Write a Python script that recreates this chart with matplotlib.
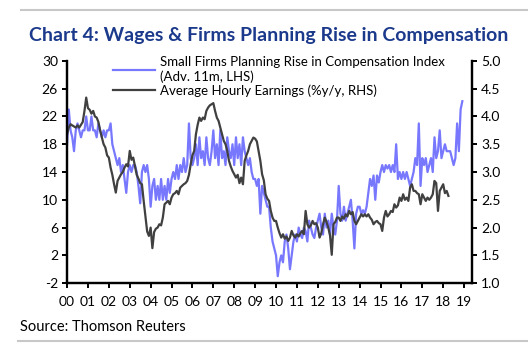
import numpy as np
import matplotlib
matplotlib.use("Agg")
import matplotlib.pyplot as plt
from matplotlib.lines import Line2D

plt.rcParams['font.family'] = ['Lato', 'DejaVu Sans']
plt.rcParams['axes.unicode_minus'] = False

# Small firms planning rise in compensation index (adv. 11m, LHS), monthly from Jan 2000
firms = [
    18, 23, 20, 19, 17, 20, 21, 20, 19, 20, 20, 22,
    20, 20, 22, 20, 20, 19, 21, 20, 19, 20, 19, 20,
    20, 21, 18, 17, 16, 15, 16, 14, 15, 13, 11, 14,
    15, 14, 15, 15, 14, 12, 9.5, 14, 15, 14, 15, 13,
    9, 12, 13, 10, 12, 10, 13, 10, 12, 10, 13, 11,
    13, 14, 13, 15, 13, 15, 14, 16, 14, 15, 21, 16,
    15, 16, 18, 15, 19, 16, 17, 15, 19, 16, 15, 17,
    20, 16, 18, 15, 20, 16, 17, 15, 19, 17, 16, 18,
    15, 19, 16, 18, 15, 19, 17, 16, 15, 16, 14, 13,
    13, 12, 13, 8, 12, 11, 10, 9, 9, 6, 4, 3,
    2, -1, 1, 2, 1, 4, 5, 3, 0, 2, 4, 5,
    4, 6, 5, 4.5, 6, 5.5, 4, 7, 6, 5, 4.5, 6,
    7, 8, 6, 5, 8, 6, 7, 5, 8, 6, 5, 7,
    12, 8, 7, 9, 7, 8, 9, 10, 7, 3, 8, 9,
    9, 8, 8.5, 8, 9, 11, 13, 12, 13.5, 10, 13.5, 12.5,
    14, 15, 14, 15, 14.5, 15, 14, 15, 14, 18, 13, 14,
    13, 14, 13, 14, 13, 12, 13, 14, 16, 15, 21, 12,
    16, 15, 16, 14, 15, 16, 14, 19, 16, 17, 20, 16,
    17, 18, 17, 17, 17, 16, 15, 16, 21, 17, 23, 24.2,
]

# Average hourly earnings (%y/y, RHS), monthly from Jan 2000
ahe = [
    3.68, 3.80, 3.86, 3.84, 3.82, 3.80, 3.84, 3.80, 3.85, 3.90, 4.10, 4.34,
    4.15, 4.12, 4.05, 4.10, 4.00, 3.98, 3.90, 3.75, 3.62, 3.50, 3.44, 3.30,
    3.26, 3.08, 2.95, 2.78, 2.63, 2.84, 2.90, 2.96, 3.00, 3.08, 3.14, 3.10,
    3.38, 3.22, 3.26, 3.10, 2.95, 2.88, 2.80, 2.78, 2.48, 2.20, 1.93, 1.85,
    2.00, 1.63, 1.92, 1.98, 2.00, 2.06, 2.04, 2.18, 2.42, 2.45, 2.48, 2.42,
    2.54, 2.60, 2.62, 2.66, 2.60, 2.72, 2.75, 2.78, 2.80, 2.84, 2.95, 3.14,
    3.30, 3.38, 3.68, 3.85, 3.98, 3.92, 3.98, 3.95, 4.10, 4.16, 4.20, 4.22,
    4.24, 4.10, 3.98, 3.92, 3.80, 3.68, 3.56, 3.50, 3.38, 3.20, 3.10, 3.02,
    2.96, 2.90, 2.95, 2.80, 2.90, 2.78, 3.20, 3.30, 3.38, 3.50, 3.56, 3.62,
    3.60, 3.55, 3.38, 3.20, 2.96, 2.85, 2.60, 2.52, 2.48, 2.30, 2.18, 2.12,
    2.12, 2.00, 1.90, 1.82, 1.88, 1.80, 1.84, 1.76, 1.82, 1.94, 1.86, 1.82,
    1.88, 1.84, 1.90, 1.94, 1.88, 2.30, 2.06, 2.00, 2.04, 2.12, 2.06, 2.08,
    2.00, 1.82, 1.90, 2.06, 2.18, 2.10, 2.00, 1.86, 1.51, 2.06, 2.10, 2.18,
    2.18, 2.12, 2.20, 2.16, 2.24, 2.20, 2.30, 2.24, 2.28, 2.12, 2.06, 2.12,
    2.18, 2.24, 2.20, 2.24, 2.20, 2.24, 2.18, 2.14, 2.06, 2.10, 2.12, 2.08,
    2.06, 1.94, 2.18, 2.30, 2.20, 2.24, 2.30, 2.28, 2.42, 2.36, 2.40, 2.54,
    2.48, 2.60, 2.50, 2.54, 2.48, 2.72, 2.78, 2.66, 2.66, 2.62, 2.60, 2.42,
    2.60, 2.54, 2.48, 2.54, 2.50, 2.54, 2.60, 2.84, 2.80, 2.30, 2.66, 2.72,
    2.78, 2.62, 2.66, 2.57,
]

year_labels = ['00', '01', '02', '03', '04', '05', '06', '07', '08', '09',
               '10', '11', '12', '13', '14', '15', '16', '17', '18', '19']

t_firms = 2000 + np.arange(len(firms)) / 12
t_ahe = 2000 + np.arange(len(ahe)) / 12

blue = '#7878ff'
dark = '#404040'
title_col = '#1c3a8c'

fig = plt.figure(figsize=(5.28, 3.5), dpi=100)
ax = fig.add_axes([0.127, 0.191, 0.767, 0.635])
ax2 = ax.twinx()

ax.plot(t_firms, firms, color=blue, lw=1.6)
ax2.plot(t_ahe, ahe, color=dark, lw=1.6)

ax.set_xlim(2000, 2019.38)
ax.set_ylim(-2, 30)
ax.set_yticks(np.arange(-2, 31, 4))
ax2.set_ylim(1.0, 5.0)
ax2.set_yticks(np.arange(1.0, 5.01, 0.5))
ax2.set_yticklabels([f"{v:.1f}" for v in np.arange(1.0, 5.01, 0.5)])
ax.set_xticks(np.arange(2000, 2020))
ax.set_xticklabels(year_labels)

for a in (ax, ax2):
    a.spines['top'].set_visible(False)
    for s in ('left', 'right', 'bottom'):
        a.spines[s].set_linewidth(1.6)
        a.spines[s].set_color('black')
    a.tick_params(direction='out', length=3.5, width=1.4, labelsize=10,
                  colors='black', pad=3)
ax.tick_params(axis='x', pad=6)

handles = [Line2D([], [], color=blue, lw=1.6), Line2D([], [], color=dark, lw=1.6)]
labels = ['Small Firms Planning Rise in Compensation Index\n(Adv. 11m, LHS)',
          'Average Hourly Earnings (%y/y, RHS)']
ax2.legend(handles, labels, loc='upper left', bbox_to_anchor=(0.1, 1.045),
           frameon=False, fontsize=9.5, handlelength=3.2, handletextpad=0.4,
           labelspacing=0.1, borderaxespad=0)

fig.text(0.508, 0.9, 'Chart 4: Wages & Firms Planning Rise in Compensation',
         ha='center', va='center', fontsize=14, fontweight='bold', color=title_col)
fig.text(0.038, 0.066, 'Source: Thomson Reuters', ha='left', va='center',
         fontsize=10.5, color='black')

fig.add_artist(Line2D([0.04, 1.0], [0.971, 0.971], color='#c8c8c8', lw=1.5))
fig.add_artist(Line2D([0.034, 1.0], [0.026, 0.026], color='#c8c8c8', lw=1.5))

fig.savefig('out.png', dpi=100)
